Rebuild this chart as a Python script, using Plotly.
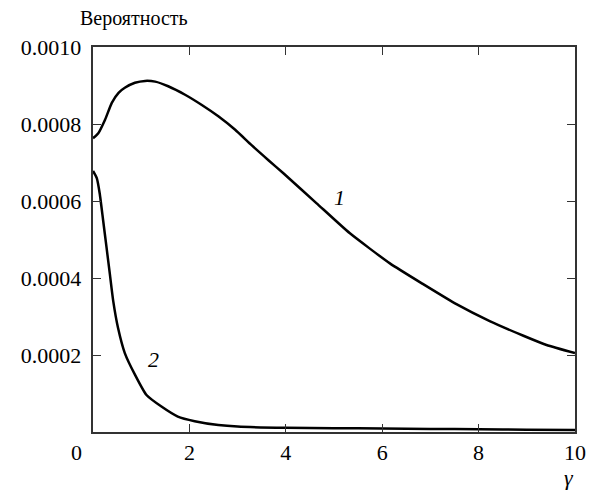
import plotly.graph_objects as go

# Curve 1
x1 = [0.0, 0.11, 0.25, 0.39, 0.53, 0.66, 0.87, 1.08, 1.29, 1.56, 1.91, 2.25, 2.6, 2.95,
      3.29, 3.64, 3.95, 4.64, 5.33, 6.16, 6.85, 7.54, 8.23, 8.93, 9.41, 10.0]
y1 = [0.000763, 0.000776, 0.000811, 0.000855, 0.000881, 0.000894, 0.000907, 0.000912,
      0.000910, 0.000898, 0.000876, 0.000850, 0.000820, 0.000785, 0.000745, 0.000706,
      0.000672, 0.000594, 0.000516, 0.000438, 0.000384, 0.000332, 0.000288,
      0.000250, 0.000226, 0.000205]

# Curve 2
x2 = [0.0, 0.08, 0.14, 0.21, 0.28, 0.35, 0.42, 0.52, 0.66, 0.87, 1.11, 1.42, 1.76, 2.11,
      2.6, 3.0, 4.0, 5.0, 6.0, 7.0, 8.0, 9.0, 10.0]
y2 = [0.000678, 0.000659, 0.000619, 0.000550, 0.000480, 0.000410, 0.000340, 0.000270,
      0.000205, 0.000149, 0.000096, 0.000066, 0.000040, 0.000028, 0.000018, 0.000014,
      0.000011, 0.000010, 0.000009, 0.000008, 0.000007, 0.000006, 0.000005]

x_ticks = [2, 4, 6, 8, 10]
y_ticks = [0.0002, 0.0004, 0.0006, 0.0008, 0.0010]
y_ticktext = ["0.0002", "0.0004", "0.0006", "0.0008", "0.0010"]

FONT = "Liberation Serif"
BLACK = "black"

fig = go.Figure()
fig.add_trace(go.Scatter(x=x1, y=y1, mode="lines",
                         line=dict(color=BLACK, width=2.5, shape="spline", smoothing=0.5),
                         showlegend=False))
fig.add_trace(go.Scatter(x=x2, y=y2, mode="lines",
                         line=dict(color=BLACK, width=2.5, shape="spline", smoothing=0.5),
                         showlegend=False))

axis_common = dict(showgrid=False, zeroline=False, showline=True, linecolor="#333", linewidth=1.5,
                   mirror="ticks", ticks="inside", ticklen=8, tickwidth=1.2, tickcolor="#333",
                   tickfont=dict(family=FONT, size=22, color=BLACK))

fig.update_xaxes(range=[0, 10], tickvals=x_ticks, ticktext=[str(v) for v in x_ticks], **axis_common)
fig.update_yaxes(range=[0, 0.001], tickvals=y_ticks,
                 ticktext=[t + "\u00a0" for t in y_ticktext], **axis_common)

fig.add_annotation(x=5.12, y=0.00061, text="<i>1</i>", showarrow=False,
                   font=dict(family=FONT, size=22, color=BLACK))
fig.add_annotation(x=1.25, y=0.000188, text="<i>2</i>", showarrow=False,
                   font=dict(family=FONT, size=22, color=BLACK))
fig.add_annotation(x=0, y=0, xref="x", yref="y", text="0", showarrow=False,
                   xshift=-17, yshift=-20, font=dict(family=FONT, size=22, color=BLACK))
fig.add_annotation(x=10, y=0, xref="x", yref="y", text="<i>γ</i>", showarrow=False,
                   xshift=-6, yshift=-45, font=dict(family=FONT, size=22, color=BLACK))

# page is rendered with an 8px body margin, so margins are shifted by -8 px
L, T, R, B = 85, 39, 39, 67
W, H = 606, 491
pw, ph = W - L - R, H - T - B
fig.add_annotation(x=(134 - 8 - L) / pw, y=1 + (T - 11) / ph,
                   xref="paper", yref="paper", text="Вероятность", showarrow=False,
                   xanchor="center", yanchor="middle",
                   font=dict(family=FONT, size=20, color=BLACK))

fig.update_layout(width=W, height=H, margin=dict(l=L, r=R, t=T, b=B),
                  font=dict(family=FONT, size=22, color=BLACK),
                  plot_bgcolor="white", paper_bgcolor="white")

fig.write_html("out.html")
